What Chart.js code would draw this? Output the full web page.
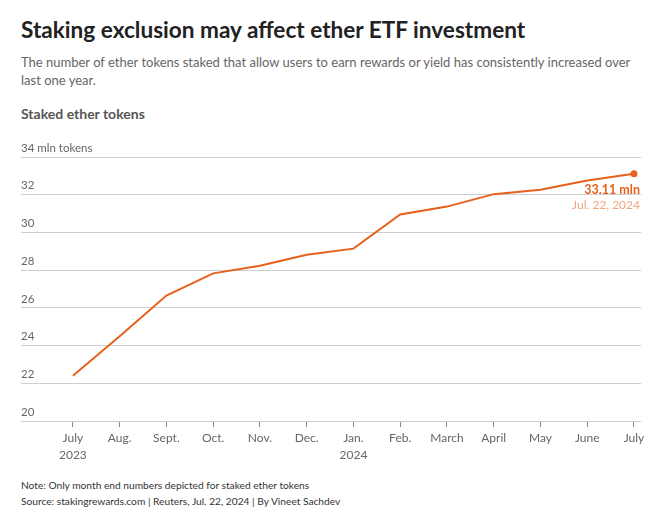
<!DOCTYPE html>
<html>
<head>
<meta charset="utf-8">
<script src="https://cdn.jsdelivr.net/npm/chart.js@4.4.1/dist/chart.umd.min.js"></script>
<style>
  html, body { margin: 0; padding: 0; background: #fff; }
  body { width: 663px; height: 521px; position: relative; overflow: hidden; font-family: Lato, sans-serif; }
  .title { position: absolute; left: 21px; top: 16px; font-size: 22.6px; font-weight: 700; color: #222; white-space: nowrap; }
  .sub { position: absolute; left: 21px; top: 53px; font-size: 13px; line-height: 18px; color: #666; white-space: nowrap; }
  .label { position: absolute; left: 21px; top: 105px; font-size: 14px; font-weight: 700; color: #555; }
  .notes { position: absolute; left: 21px; top: 477px; font-size: 10.2px; line-height: 16px; color: #333; white-space: nowrap; }
  #wrap { position: absolute; left: 0; top: 130px; width: 663px; height: 341px; }
</style>
</head>
<body>
<div class="title">Staking exclusion may affect ether ETF investment</div>
<div class="sub">The number of ether tokens staked that allow users to earn rewards or yield has consistently increased over<br>last one year.</div>
<div class="label">Staked ether tokens</div>
<div id="wrap"><canvas id="chart"></canvas></div>
<div class="notes">Note: Only month end numbers depicted for staked ether tokens<br>Source: stakingrewards.com | Reuters, Jul. 22, 2024 | By Vineet Sachdev</div>

<script>
// month labels (second line = year where shown)
const months = [
  ['July', '2023'], 'Aug.', 'Sept.', 'Oct.', 'Nov.', 'Dec.',
  ['Jan.', '2024'], 'Feb.', 'March', 'April', 'May', 'June', 'July'
];

// staked ether, mln tokens, month end
const staked = [22.4, 24.5, 26.65, 27.83, 28.23, 28.82, 29.14, 30.95, 31.37, 32.03, 32.26, 32.75, 33.11];

const yTicks = [20, 22, 24, 26, 28, 30, 32, 34];

const lastValue = '33.11 mln';
const lastDate  = 'Jul. 22, 2024';

const ORANGE = '#e8601c';

// end label next to the final point
const endLabel = {
  id: 'endLabel',
  afterDatasetsDraw(chart) {
    const meta = chart.getDatasetMeta(0);
    const pt = meta.data[meta.data.length - 1];
    const ctx = chart.ctx;
    ctx.save();
    ctx.textAlign = 'right';
    ctx.textBaseline = 'middle';
    ctx.font = '700 12.5px Lato, sans-serif';
    ctx.fillStyle = ORANGE;
    ctx.fillText(lastValue, pt.x + 6, pt.y + 16);
    ctx.font = '400 12px Lato, sans-serif';
    ctx.fillStyle = '#f3a57c';
    ctx.fillText(lastDate, pt.x + 6, pt.y + 31);
    ctx.restore();
  }
};

new Chart(document.getElementById('chart'), {
  type: 'line',
  data: {
    datasets: [{
      data: staked.map((v, i) => ({ x: i, y: v })),
      borderColor: ORANGE,
      backgroundColor: ORANGE,
      borderWidth: 2,
      tension: 0,
      fill: false,
      pointRadius: staked.map((v, i) => i === staked.length - 1 ? 3.5 : 0),
      pointBorderWidth: 0,
      pointHoverRadius: 0,
    }],
  },
  options: {
    responsive: true,
    maintainAspectRatio: false,
    animation: false,
    layout: { padding: { left: 21, right: 22, top: 27, bottom: 0 } },
    plugins: { legend: { display: false }, tooltip: { enabled: false } },
    scales: {
      x: {
        type: 'linear',
        min: -1.11,
        max: 12.15,
        afterBuildTicks: s => { s.ticks = months.map((m, i) => ({ value: i })); },
        afterFit: s => { s.height = 50; },
        border: { display: false },
        grid: { drawOnChartArea: false, drawTicks: true, tickLength: 6, color: '#888' },
        ticks: {
          padding: 3,
          maxRotation: 0,
          autoSkip: false,
          color: '#666',
          font: { family: 'Lato', size: 12, lineHeight: 1.4 },
          callback: (v, i) => months[i],
        },
      },
      y: {
        min: 20,
        max: 34,
        afterBuildTicks: s => { s.ticks = yTicks.map(v => ({ value: v })); },
        border: { display: false },
        grid: { drawTicks: false, color: '#cfcfcf', lineWidth: 1 },
        ticks: {
          mirror: true,
          padding: 0,
          labelOffset: -9,
          color: '#666',
          font: { family: 'Lato', size: 11.5 },
          callback: v => v === 34 ? '34 mln tokens' : String(v),
        },
      },
    },
  },
  plugins: [endLabel],
});
</script>
</body>
</html>
